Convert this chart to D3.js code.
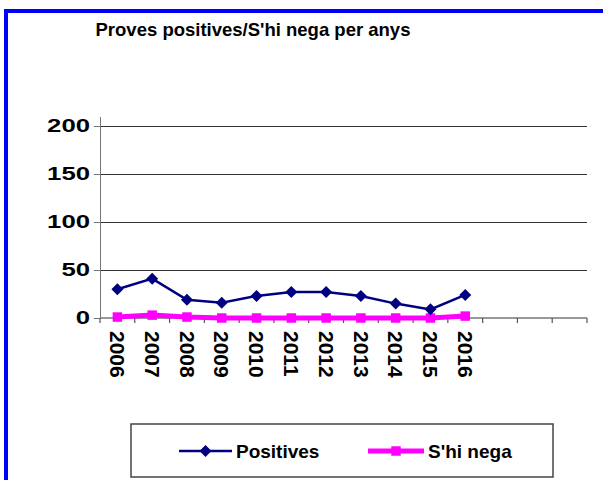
<!DOCTYPE html>
<html>
<head>
<meta charset="utf-8">
<script src="https://cdn.jsdelivr.net/npm/d3@7"></script>
<style>
  body { margin: 0; background: #fff; }
  svg { display: block; font-family: "Liberation Sans", Arial, sans-serif; font-weight: bold; }
</style>
</head>
<body>
<div id="chart"></div>
<script>
// -- data --
var years = ["2006", "2007", "2008", "2009", "2010", "2011", "2012", "2013", "2014", "2015", "2016"];
var positives = [30, 41, 19, 16, 23, 27, 27, 23, 15, 9, 24];
var shiNega = [1, 3, 1, 0, 0, 0, 0, 0, 0, 0, 2];
var yTicks = [0, 50, 100, 150, 200];
var slots = 14; // category slots on the x axis (3 left empty)

var width = 603, height = 480;

var svg = d3.select("#chart")
  .append("svg")
  .attr("width", width)
  .attr("height", height);

// blue frame
svg.append("rect")
  .attr("x", 6).attr("y", 11)
  .attr("width", 620).attr("height", 500)
  .attr("fill", "#fff")
  .attr("stroke", "#0000ff")
  .attr("stroke-width", 4);

// title
svg.append("text")
  .text("Proves positives/S'hi nega per anys")
  .attr("x", 253).attr("y", 36)
  .attr("text-anchor", "middle")
  .style("font-size", "18.5px");

// == scales ==
var plot = { left: 100, right: 587, top: 117, bottom: 318 };

var x = d3.scaleLinear()
  .domain([0, slots])
  .range([plot.left, plot.right]);

var y = d3.scaleLinear()
  .domain([0, 200])
  .range([plot.bottom, 126]);

// -- grid lines --
svg.append("g")
  .selectAll("line")
  .data(yTicks.filter(function (d) { return d > 0; }))
  .enter()
  .append("line")
  .attr("x1", plot.left).attr("x2", plot.right)
  .attr("y1", function (d) { return y(d); })
  .attr("y2", function (d) { return y(d); })
  .attr("stroke", "#333")
  .attr("stroke-width", 1)
  .attr("shape-rendering", "crispEdges");

// -- y axis --
var y_axis = d3.axisLeft(y).tickValues(yTicks).tickSize(6).tickSizeOuter(0);
var gy = svg.append("g")
  .attr("transform", "translate(" + plot.left + ",0)")
  .call(y_axis);
gy.select(".domain").remove();
gy.selectAll(".tick line").attr("stroke", "#777").attr("shape-rendering", "crispEdges");
gy.selectAll(".tick text")
  .attr("x", 0)
  .attr("transform", "translate(-10,0) scale(1.43,1)")
  .attr("fill", "#000")
  .style("font-size", "18px")
  .style("font-family", "Liberation Sans, Arial, sans-serif")
  .style("font-weight", "bold");

svg.append("line")
  .attr("x1", plot.left).attr("x2", plot.left)
  .attr("y1", plot.top).attr("y2", plot.bottom)
  .attr("stroke", "#777").attr("stroke-width", 1)
  .attr("shape-rendering", "crispEdges");

// -- x axis --
svg.append("line")
  .attr("x1", plot.left).attr("x2", plot.right)
  .attr("y1", plot.bottom).attr("y2", plot.bottom)
  .attr("stroke", "#777").attr("stroke-width", 1.5);

svg.append("g")
  .selectAll("line")
  .data(d3.range(slots + 1))
  .enter()
  .append("line")
  .attr("x1", function (d) { return x(d); })
  .attr("x2", function (d) { return x(d); })
  .attr("y1", plot.bottom).attr("y2", plot.bottom + 5)
  .attr("stroke", "#555").attr("stroke-width", 1.2);

svg.append("g")
  .selectAll("text")
  .data(years)
  .enter()
  .append("text")
  .text(function (d) { return d; })
  .attr("transform", function (d, i) {
    return "translate(" + x(i + 0.5) + "," + (plot.bottom + 13) + ") rotate(90)";
  })
  .attr("dy", "0.35em")
  .style("font-size", "21px");

// == series ==
var line = d3.line()
  .x(function (d, i) { return x(i + 0.5); })
  .y(function (d) { return y(d); });

var diamond = d3.symbol().type(d3.symbolSquare).size(72);
var square = d3.symbol().type(d3.symbolSquare).size(90);

svg.append("path")
  .datum(shiNega)
  .attr("d", line)
  .attr("fill", "none")
  .attr("stroke", "#ff00ff")
  .attr("stroke-width", 5);

svg.append("g")
  .selectAll("path")
  .data(shiNega)
  .enter()
  .append("path")
  .attr("d", square)
  .attr("transform", function (d, i) { return "translate(" + x(i + 0.5) + "," + y(d) + ")"; })
  .attr("fill", "#ff00ff");

svg.append("path")
  .datum(positives)
  .attr("d", line)
  .attr("fill", "none")
  .attr("stroke", "#000080")
  .attr("stroke-width", 2.5);

svg.append("g")
  .selectAll("path")
  .data(positives)
  .enter()
  .append("path")
  .attr("d", diamond)
  .attr("transform", function (d, i) { return "translate(" + x(i + 0.5) + "," + y(d) + ") rotate(45)"; })
  .attr("fill", "#000080");

// == legend ==
var legend = svg.append("g");
legend.append("rect")
  .attr("x", 131).attr("y", 424)
  .attr("width", 422).attr("height", 53)
  .attr("fill", "#fff")
  .attr("stroke", "#444")
  .attr("stroke-width", 1.5);

var items = [
  { name: "Positives", color: "#000080", w: 2.5, sym: diamond, rot: 45, x0: 179, x1: 232 },
  { name: "S'hi nega", color: "#ff00ff", w: 5, sym: square, rot: 0, x0: 368, x1: 424 }
];

items.forEach(function (it) {
  legend.append("line")
    .attr("x1", it.x0).attr("x2", it.x1)
    .attr("y1", 451).attr("y2", 451)
    .attr("stroke", it.color).attr("stroke-width", it.w);
  legend.append("path")
    .attr("d", it.sym)
    .attr("transform", "translate(" + (it.x0 + it.x1) / 2 + ",451) rotate(" + it.rot + ")")
    .attr("fill", it.color);
  legend.append("text")
    .text(it.name)
    .attr("x", it.x1 + 4).attr("y", 457.5)
    .style("font-size", "19px");
});
</script>
</body>
</html>
